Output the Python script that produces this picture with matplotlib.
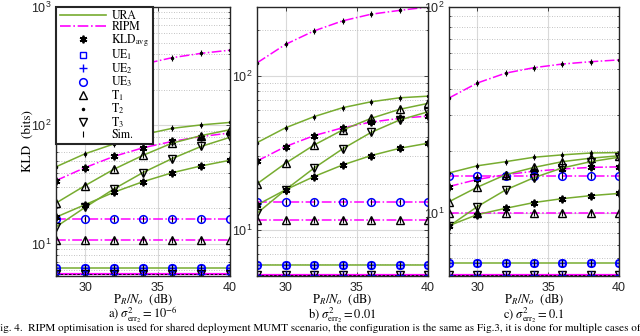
import matplotlib
matplotlib.use('Agg')
import matplotlib.pyplot as plt
from matplotlib.lines import Line2D
from matplotlib.ticker import LogLocator, NullFormatter, FuncFormatter
import numpy as np

plt.rcParams['font.family'] = ['Liberation Sans', 'DejaVu Sans']
plt.rcParams['mathtext.fontset'] = 'custom'
plt.rcParams['mathtext.rm'] = 'STIXGeneral'
plt.rcParams['mathtext.it'] = 'STIXGeneral:italic'
plt.rcParams['mathtext.bf'] = 'STIXGeneral:bold'
plt.rcParams['mathtext.sf'] = 'Liberation Sans'
plt.rcParams['mathtext.fallback'] = 'stix'

snr_db = [28, 30, 32, 34, 36, 38, 40]

# a) sigma^2 = 1e-6
a_ura_t2 = [44.7, 57.6, 69.8, 83.6, 94.4, 101, 106]
a_ura_t1 = [22.1, 31.0, 42.7, 55.9, 70.8, 82.0, 92.0]
a_ura_avg = [16.8, 21.4, 27.3, 33.5, 39.8, 45.5, 50.8]
a_ura_t3 = [13.9, 20.3, 29.1, 40.0, 52.4, 66.4, 79.4]
a_ura_ue = [6.27, 6.27, 6.27, 6.27, 6.27, 6.27, 6.27]
a_ripm_t2 = [190, 250, 300, 329, 373, 406, 432]
a_ripm_avg = [34.2, 44.0, 54.8, 64.7, 73.2, 80.5, 86.3]
a_ripm_ue3 = [16.1, 16.1, 16.1, 16.1, 16.1, 16.1, 16.1]
a_ripm_t1 = [10.7, 10.7, 10.7, 10.7, 10.7, 10.7, 10.7]
a_low = [5.52, 5.52, 5.52, 5.52, 5.52, 5.52, 5.52]

# b) sigma^2 = 0.01
b_ura_t2 = [36.9, 46.1, 54.5, 62.3, 68.1, 72.3, 74.1]
b_ura_t1 = [19.9, 27.1, 35.6, 44.6, 53.1, 60.8, 66.5]
b_ura_avg = [14.5, 18.2, 22.2, 26.4, 30.4, 33.9, 36.6]
b_ura_t3 = [12.8, 18.2, 25.2, 33.6, 43.0, 51.8, 58.6]
b_ura_ue = [5.93, 5.93, 5.93, 5.93, 5.93, 5.93, 5.93]
b_ripm_t2 = [122, 161, 197, 229, 253, 268, 282]
b_ripm_avg = [28.0, 34.8, 41.0, 46.1, 50.2, 53.1, 55.0]
b_ripm_ue3 = [15.1, 15.1, 15.1, 15.1, 15.1, 15.1, 15.1]
b_ripm_t1 = [11.6, 11.6, 11.6, 11.6, 11.6, 11.6, 11.6]
b_low = [5.08, 5.08, 5.08, 5.08, 5.08, 5.08, 5.08]

# c) sigma^2 = 0.1
c_ura_t2 = [15.6, 16.9, 17.7, 18.6, 19.1, 19.5, 19.6]
c_ura_t1 = [11.3, 13.3, 15.3, 16.6, 17.7, 18.4, 18.9]
c_ura_avg = [8.65, 9.78, 10.5, 11.2, 11.7, 12.1, 12.4]
c_ura_t3 = [8.59, 10.7, 12.9, 14.8, 16.5, 17.7, 18.6]
c_ura_ue = [5.70, 5.70, 5.70, 5.70, 5.70, 5.70, 5.70]
c_ripm_t2 = [36.1, 42.7, 47.7, 50.7, 52.8, 54.2, 55.3]
c_ripm_avg = [13.4, 14.5, 15.3, 15.9, 16.3, 16.6, 16.7]
c_ripm_ue3 = [15.0, 15.0, 15.0, 15.0, 15.0, 15.0, 15.0]
c_ripm_t1 = [10.0, 10.0, 10.0, 10.0, 10.0, 10.0, 10.0]
c_low = [4.97, 4.97, 4.97, 4.97, 4.97, 4.97, 4.97]

y_limits = [(5.35, 1000), (5.0, 282), (4.92, 100)]
sub_titles = [r'a) $\sigma^2_{\mathrm{err}_2} = 10^{-6}$',
              r'b) $\sigma^2_{\mathrm{err}_2} = 0.01$',
              r'c) $\sigma^2_{\mathrm{err}_2} = 0.1$']

GREEN = '#77AC30'
MAG = '#FF00FF'
BLUE = '#0000FF'

marks = {
    'avg': dict(marker=(6, 2, 0), color='k', ms=5.5, mew=1.3),
    'ue1': dict(marker='s', mfc='none', mec=BLUE, ms=4.5, mew=1.0),
    'ue2': dict(marker='+', color=BLUE, ms=5.5, mew=1.0),
    'ue3': dict(marker='o', mfc='none', mec=BLUE, ms=5.5, mew=1.1),
    't1': dict(marker='^', mfc='none', mec='k', ms=5.5, mew=1.0),
    't2': dict(marker='.', color='k', ms=3),
    't3': dict(marker='v', mfc='none', mec='k', ms=5.5, mew=1.0),
    'sim': dict(marker='|', color='k', ms=5, mew=0.8),
}


def draw(ax, y, color, ls, keys, lw=1.1):
    ax.plot(snr_db, y, color=color, ls=ls, lw=lw)
    for k in keys:
        ax.plot(snr_db, y, ls='none', **marks[k])


def panel(ax, d):
    ura_t2, ura_t1, ura_avg, ura_t3, ura_ue, ripm_t2, ripm_avg, ripm_ue3, ripm_t1, low = d
    draw(ax, ripm_t2, MAG, '-.', ['t2', 'sim'])
    draw(ax, ripm_avg, MAG, '-.', ['avg', 'sim'])
    draw(ax, ripm_ue3, MAG, '-.', ['ue3', 'sim'])
    draw(ax, ripm_t1, MAG, '-.', ['t1', 'sim'])
    draw(ax, ura_t2, GREEN, '-', ['t2', 'sim'])
    draw(ax, ura_t1, GREEN, '-', ['t1', 'sim'])
    draw(ax, ura_t3, GREEN, '-', ['t3', 'sim'])
    draw(ax, ura_avg, GREEN, '-', ['avg', 'sim'])
    draw(ax, ura_ue, GREEN, '-', ['ue3', 'ue1', 'ue2', 'sim'])
    ax.plot(snr_db, low, color=MAG, ls='-', lw=1.6)
    draw(ax, low, 'k', (0, (3, 2)), ['t3', 'ue2', 'sim'], lw=0.6)


def pow10(v, pos):
    return r'$\mathsf{10}^{\mathsf{%d}}$' % int(round(np.log10(v)))


fig = plt.figure(figsize=(6.4, 3.36), dpi=100)
boxes = [(56, 230), (257, 428), (449, 619)]
datasets = [
    (a_ura_t2, a_ura_t1, a_ura_avg, a_ura_t3, a_ura_ue, a_ripm_t2, a_ripm_avg, a_ripm_ue3, a_ripm_t1, a_low),
    (b_ura_t2, b_ura_t1, b_ura_avg, b_ura_t3, b_ura_ue, b_ripm_t2, b_ripm_avg, b_ripm_ue3, b_ripm_t1, b_low),
    (c_ura_t2, c_ura_t1, c_ura_avg, c_ura_t3, c_ura_ue, c_ripm_t2, c_ripm_avg, c_ripm_ue3, c_ripm_t1, c_low),
]
top, bottom = 7, 276
axes = []
for i, (l, r) in enumerate(boxes):
    ax = fig.add_axes([l / 640, 1 - bottom / 336, (r - l) / 640, (bottom - top) / 336])
    ax.set_yscale('log')
    panel(ax, datasets[i])
    ax.set_xlim(28, 40)
    ax.set_ylim(*y_limits[i])
    ax.set_xticks([30, 35, 40])
    ax.yaxis.set_major_locator(LogLocator(base=10))
    ax.yaxis.set_major_formatter(FuncFormatter(pow10))
    ax.yaxis.set_minor_locator(LogLocator(base=10, subs=range(2, 10)))
    ax.yaxis.set_minor_formatter(NullFormatter())
    ax.set_axisbelow(True)
    ax.grid(True, which='major', color='#d9d9d9', lw=0.8, ls='-')
    ax.grid(True, which='minor', axis='y', color='#b0b0b0', lw=0.6, ls=(0, (1, 2)))
    ax.tick_params(direction='in', which='both', top=True, right=True,
                   labelsize=9, colors='#262626', length=3, width=0.6)
    ax.tick_params(axis='x', pad=4)
    ax.tick_params(axis='y', pad=3)
    ax.tick_params(which='minor', length=1.5)
    for s in ax.spines.values():
        s.set_color('#262626')
        s.set_linewidth(1.0)
    cx = (l + r) / 2 / 640
    fig.text(cx, 1 - 299.5 / 336, r'$\mathrm{P}_R/N_o\ \ \mathrm{(dB)}$', ha='center', va='center',
             fontsize=9, family='STIXGeneral')
    fig.text(cx, 1 - 315 / 336, sub_titles[i], ha='center', va='center',
             fontsize=9, family='STIXGeneral')
    axes.append(ax)

fig.text(28 / 640, 1 - 141 / 336, 'KLD  (bits)', rotation=90, ha='center', va='center',
         fontsize=9.5, family='STIXGeneral')

handles = [
    Line2D([], [], color=GREEN, lw=1.2),
    Line2D([], [], color=MAG, lw=1.2, ls='-.'),
]
for k in ['avg', 'ue1', 'ue2', 'ue3', 't1', 't2', 't3', 'sim']:
    handles.append(Line2D([], [], ls='none', **marks[k]))
labels = ['URA', 'RIPM', r'KLD$_{\mathrm{avg}}$', r'UE$_1$', r'UE$_2$', r'UE$_3$',
          r'T$_1$', r'T$_2$', r'T$_3$', 'Sim.']
leg = axes[0].legend(handles, labels, loc='upper left', bbox_to_anchor=(0, 1),
                     borderaxespad=0, fancybox=False, framealpha=1, edgecolor='#262626',
                     prop={'family': 'STIXGeneral', 'size': 8.5}, handlelength=3.9,
                     labelspacing=-0.08, borderpad=0.3, handletextpad=0.5)
leg.get_frame().set_linewidth(1.5)
leg.set_zorder(10)

fig.text(-6 / 640, 1 - 328.5 / 336,
         'Fig. 4.  RIPM optimisation is used for shared deployment MUMT scenario, the configuration is the same as Fig.3, it is done for multiple cases of',
         ha='left', va='center', fontsize=8, family='STIXGeneral')

fig.savefig('out.png', dpi=100)
